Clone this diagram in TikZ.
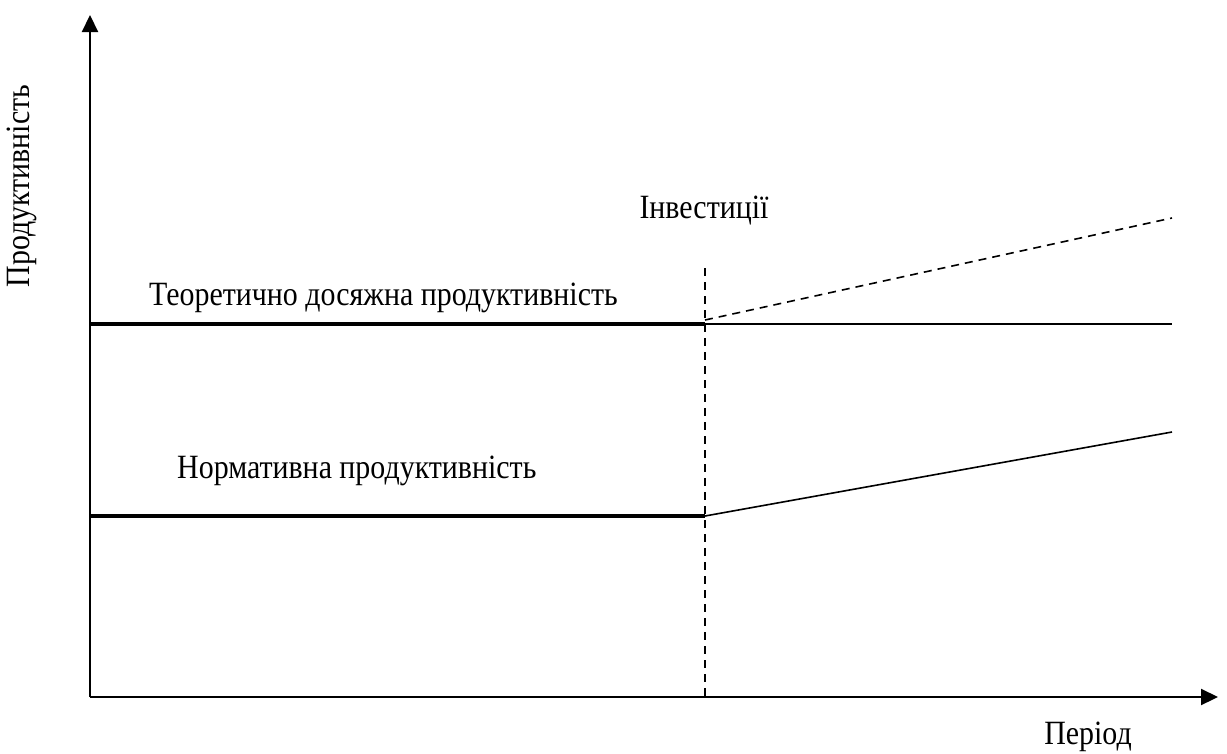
\documentclass[tikz,border=0pt]{standalone}
\usepackage{fontspec}
\setmainfont{Liberation Serif}[FakeStretch=0.88]
\usetikzlibrary{arrows.meta}

\begin{document}
\begin{tikzpicture}[x=1pt, y=-1pt, axis/.style={line width=2.2pt, -{Triangle[length=17pt,width=16pt]}},
		boldln/.style={line width=4pt}, thinln/.style={line width=1.6pt}, dashln/.style={line width=1.6pt, dash pattern=on 8pt off 6pt},
		lbl/.style={font=\fontsize{34}{40}\selectfont, inner sep=0pt}]
		\useasboundingbox (0,0) rectangle (1227,753);
		\coordinate (o) at (90,697);
		\coordinate (ytop) at (90,15);
		\coordinate (xend) at (1218,697);
		\coordinate (inv) at (705,268);
		\coordinate (invbot) at (705,697);
		\coordinate (t1) at (90,324);
		\coordinate (t2) at (705,324);
		\coordinate (t3) at (1172,324);
		\coordinate (d1) at (705,320);
		\coordinate (d2) at (1172,218);
		\coordinate (n1) at (90,516);
		\coordinate (n2) at (705,516);
		\coordinate (n3) at (1172,432);
		
		\node[lbl, rotate=90] (prod) at (22,186) {Продуктивність};
		\node[lbl] (per) at (1088,737) {Період};
		\node[lbl] (invl) at (704,211) {Інвестиції};
		\node[lbl, anchor=west] (teor) at (149,298) {Теоретично досяжна продуктивність};
		\node[lbl, anchor=west] (norm) at (177,471) {Нормативна продуктивність};
		
		\draw[axis] (o) -- (ytop);
		\draw[axis] (o) -- (xend);
		\draw[dashln] (inv) -- (invbot);
		\draw[boldln] (t1) -- (t2);
		\draw[thinln] (t2) -- (t3);
		\draw[dashln] (d1) -- (d2);
		\draw[boldln] (n1) -- (n2);
		\draw[thinln] (n2) -- (n3);
	\end{tikzpicture}
\end{document}
